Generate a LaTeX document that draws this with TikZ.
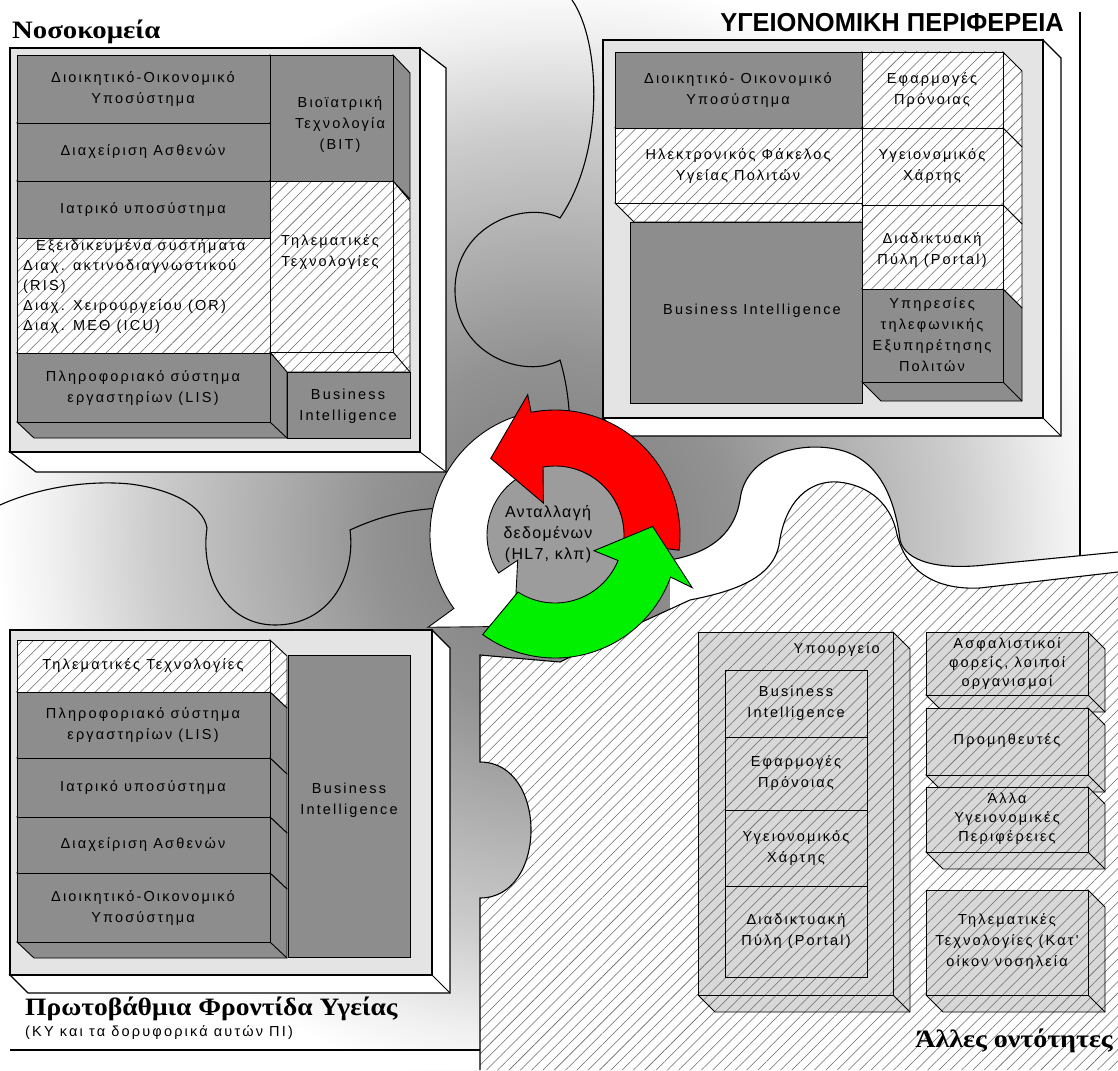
\documentclass[tikz,border=0pt]{standalone}
\usepackage{fontspec}
\setmainfont{Liberation Sans}
\newfontfamily\boxfont[LetterSpace=15]{Liberation Sans}
\newfontfamily\ringfont[LetterSpace=8]{Liberation Sans}
\newfontfamily\headserif{Liberation Serif}
\newfontfamily\headsans{Liberation Sans}
\usetikzlibrary{patterns.meta}

\definecolor{boxgray}{HTML}{8D8D8D}
\definecolor{panelgray}{HTML}{E4E4E4}
\definecolor{lightbox}{HTML}{D8D8D8}
\definecolor{hatchgray}{HTML}{6A6A6A}
\definecolor{ringred}{HTML}{FF0000}
\definecolor{ringgreen}{HTML}{00F000}
\definecolor{discgray}{HTML}{9C9C9C}
\definecolor{shadeA}{HTML}{7A7A7A}
\definecolor{shadeB}{HTML}{929292}
\definecolor{shadeC}{HTML}{CCCCCC}
\definecolor{shadeD}{HTML}{F0F0F0}
\pgfdeclareradialshading{pieceshade}{\pgfpoint{0bp}{0bp}}{color(0bp)=(shadeA); color(8bp)=(shadeB); color(18bp)=(shadeC); color(22.5bp)=(shadeD); color(25bp)=(white); color(50bp)=(white)}

% box with a bevelled right and bottom side: slab style, face style, x1, y1, x2, y2, dx, dy
\newcommand\slabbox[8]{%
  \path[#1] (#5,#4) -- (#5+#7,#4+#8) -- (#5+#7,#6+#8) -- (#3+#7,#6+#8) -- (#3,#6) -- (#5,#6) -- cycle;
  \draw[edge] (#5,#6) -- (#5+#7,#6+#8);
  \path[#2] (#3,#4) rectangle (#5,#6);
}

\tikzset{
  edge/.style={draw=black, line width=0.9pt},
  dark/.style={draw=black, line width=0.9pt, fill=boxgray},
  hatchbox/.style={draw=black, line width=0.9pt, preaction={fill=white},
    pattern={Lines[angle=45,distance=8pt,line width=0.55pt]}, pattern color=hatchgray},
  lhatch/.style={draw=black, line width=0.9pt, preaction={fill=lightbox},
    pattern={Lines[angle=45,distance=8pt,line width=0.55pt]}, pattern color=hatchgray},
  hatchfill/.style={preaction={fill=white},
    pattern={Lines[angle=45,distance=8pt,line width=0.55pt]}, pattern color=hatchgray},
  panelface/.style={draw=black, line width=1.2pt, fill=panelgray},
  panelslab/.style={draw=black, line width=1.2pt, fill=white},
  pieceline/.style={draw=black, line width=1.1pt},
  arrowline/.style={draw=black, line width=0.9pt},
  lbl/.style={font=\boxfont\fontsize{14.5}{21}\selectfont, align=center, inner sep=0pt},
  serifhead/.style={font=\headserif\bfseries\fontsize{25}{25}\selectfont, inner sep=0pt},
}

\begin{document}
\begin{tikzpicture}[x=1pt,y=-1pt]
\useasboundingbox (0,0) rectangle (1118,1070);
\fill[white] (0,0) rectangle (1118,1070);

% grey puzzle pieces, darker towards the middle
\begin{scope}
  \clip (0,0) rectangle (1118,1070);
  \shade[shading=pieceshade] (-4,-24) rectangle (1114,1094);
\end{scope}
\fill[white] (1080,0) rectangle (1118,560);
\fill[white] (0,1050) rectangle (480,1070);

% white rim above the hatched piece
\fill[white] (670,560) .. controls (715,552) and (735,530) .. (740,500)
  .. controls (745,455) and (800,440) .. (840,450)
  .. controls (880,460) and (895,500) .. (900,540)
  .. controls (905,562) and (940,570) .. (985,565) -- (1118,552)
  -- (1118,700) -- (670,700) -- cycle;

% hatched piece (other bodies)
\path[hatchfill] (480,1070) -- (480,898) .. controls (548,898) and (548,762) .. (480,762)
  -- (480,655) -- (560,662) -- (642,622) -- (690,600)
  .. controls (730,592) and (772,580) .. (779,545)
  .. controls (785,500) and (810,480) .. (838,482)
  .. controls (870,485) and (890,505) .. (896,530)
  .. controls (905,575) and (940,590) .. (980,588) -- (1118,572) -- (1118,1070) -- cycle;

% piece outlines
\draw[pieceline] (480,1070) -- (480,898) .. controls (548,898) and (548,762) .. (480,762)
  -- (480,655) -- (560,662) -- (642,622) -- (690,600)
  .. controls (730,592) and (772,580) .. (779,545)
  .. controls (785,500) and (810,480) .. (838,482)
  .. controls (870,485) and (890,505) .. (896,530)
  .. controls (905,575) and (940,590) .. (980,588) -- (1118,572);
\draw[pieceline] (670,560) .. controls (715,552) and (735,530) .. (740,500)
  .. controls (745,455) and (800,440) .. (840,450)
  .. controls (880,460) and (895,500) .. (900,540)
  .. controls (905,562) and (940,570) .. (985,565) -- (1118,552);
\draw[pieceline] (572,0) .. controls (600,40) and (606,150) .. (560,218)
  .. controls (525,200) and (455,225) .. (455,290)
  .. controls (455,355) and (525,380) .. (560,360)
  .. controls (572,400) and (571,440) .. (568,480);
\draw[pieceline] (0,505) .. controls (40,487) and (90,480) .. (130,484)
  .. controls (170,489) and (203,505) .. (207,528)
  .. controls (200,575) and (225,625) .. (275,625)
  .. controls (330,625) and (356,575) .. (350,530)
  .. controls (385,514) and (410,510) .. (440,508);
\draw[line width=2.5pt] (1080,12) -- (1080,556);

% ---------- hospitals ----------
\node[serifhead, anchor=base west] (tlTitle) at (12,39) {\scalebox{1.15}[1]{Νοσοκομεία}};
\slabbox{panelslab}{panelface}{10}{48}{420}{452}{26}{20}
\slabbox{dark}{dark}{17}{55}{270}{123}{17}{16}
\slabbox{dark}{dark}{17}{123}{270}{181}{17}{16}
\slabbox{dark}{dark}{17}{181}{270}{238}{17}{16}
\slabbox{hatchbox}{hatchbox}{17}{238}{270}{353}{17}{16}
\slabbox{dark}{dark}{17}{353}{270}{422}{17}{16}
\slabbox{dark}{dark}{270}{55}{393}{181}{17}{18}
\slabbox{hatchbox}{hatchbox}{270}{181}{393}{352}{17}{20}
\path[dark] (287,372) rectangle (410,438);
\node[lbl] (tlAdmin) at (143,89) {Διοικητικό-Οικονομικό\\Υποσύστημα};
\node[lbl] (tlPatients) at (143,152) {Διαχείριση Ασθενών};
\node[lbl] (tlMedical) at (143,210) {Ιατρικό υποσύστημα};
\node[lbl, anchor=north west, align=left, font=\boxfont\fontsize{14.5}{20}\selectfont] (tlSpecial) at (23,239)
  {\hspace*{13pt}Εξειδικευμένα συστήματα\\Διαχ. ακτινοδιαγνωστικού\\(RIS)\\Διαχ. Χειρουργείου (OR)\\Διαχ. ΜΕΘ (ICU)};
\node[lbl] (tlLis) at (143,388) {Πληροφοριακό σύστημα\\εργαστηρίων (LIS)};
\node[lbl] (tlBit) at (340,125) {Βιοϊατρική\\Τεχνολογία\\(BIT)};
\node[lbl] (tlTele) at (330,252) {Τηλεματικές\\Τεχνολογίες};
\node[lbl] (tlBi) at (348,406) {Business\\Intelligence};

% ---------- health region ----------
\node[anchor=base east, inner sep=0pt, font=\headsans\bfseries\fontsize{26}{26}\selectfont] (trTitle) at (1064,32)
  {\scalebox{0.98}[1]{ΥΓΕΙΟΝΟΜΙΚΗ ΠΕΡΙΦΕΡΕΙΑ}};
\slabbox{panelslab}{panelface}{603}{40}{1043}{418}{18}{18}
\slabbox{dark}{dark}{615}{52}{862}{128}{19}{19}
\slabbox{hatchbox}{hatchbox}{615}{128}{862}{203}{19}{19}
\path[dark] (630,222) rectangle (862,403);
\slabbox{hatchbox}{hatchbox}{862}{52}{1003}{128}{19}{19}
\slabbox{hatchbox}{hatchbox}{862}{128}{1003}{205}{19}{19}
\slabbox{hatchbox}{hatchbox}{862}{205}{1003}{289}{19}{19}
\slabbox{dark}{dark}{862}{289}{1003}{382}{19}{19}
\node[lbl] (trAdmin) at (738,90) {Διοικητικό- Οικονομικό\\Υποσύστημα};
\node[lbl] (trEhr) at (738,166) {Ηλεκτρονικός Φάκελος\\Υγείας Πολιτών};
\node[lbl] (trBi) at (752,311) {Business Intelligence};
\node[lbl] (trWelfare) at (932,90) {Εφαρμογές\\Πρόνοιας};
\node[lbl] (trMap) at (932,166) {Υγειονομικός\\Χάρτης};
\node[lbl] (trPortal) at (932,250) {Διαδικτυακή\\Πύλη (Portal)};
\node[lbl] (trCall) at (932,335) {Υπηρεσίες\\τηλεφωνικής\\Εξυπηρέτησης\\Πολιτών};

% ---------- primary care ----------
\slabbox{panelslab}{panelface}{10}{630}{432}{975}{18}{18}
\slabbox{hatchbox}{hatchbox}{17}{640}{270}{692}{17}{16}
\slabbox{dark}{dark}{17}{692}{270}{758}{17}{16}
\slabbox{dark}{dark}{17}{758}{270}{817}{17}{16}
\slabbox{dark}{dark}{17}{817}{270}{873}{17}{16}
\slabbox{dark}{dark}{17}{873}{270}{942}{17}{16}
\path[dark] (288,655) rectangle (410,957);
\node[lbl] (blTele) at (143,666) {Τηλεματικές Τεχνολογίες};
\node[lbl] (blLis) at (143,725) {Πληροφοριακό σύστημα\\εργαστηρίων (LIS)};
\node[lbl] (blMedical) at (143,788) {Ιατρικό υποσύστημα};
\node[lbl] (blPatients) at (143,845) {Διαχείριση Ασθενών};
\node[lbl] (blAdmin) at (143,908) {Διοικητικό-Οικονομικό\\Υποσύστημα};
\node[lbl] (blBi) at (349,800) {Business\\Intelligence};
\node[serifhead, anchor=base west] (blTitle) at (25,1015) {\scalebox{1.1}[1]{Πρωτοβάθμια Φροντίδα Υγείας}};
\node[lbl, anchor=base west] (blSub) at (25,1036) {(ΚΥ και τα δορυφορικά αυτών ΠΙ)};
\draw[line width=2.5pt] (10,1050) -- (480,1050);

% ---------- other bodies ----------
\slabbox{lhatch}{lhatch}{698}{632}{893}{995}{17}{17}
\path[lhatch] (725,670) rectangle (867,737);
\path[lhatch] (725,737) rectangle (867,810);
\path[lhatch] (725,810) rectangle (867,886);
\path[lhatch] (725,886) rectangle (867,977);
\node[lbl, anchor=east] (brMinistry) at (880,650) {Υπουργείο};
\node[lbl] (brBi) at (796,703) {Business\\Intelligence};
\node[lbl] (brWelfare) at (796,773) {Εφαρμογές\\Πρόνοιας};
\node[lbl] (brMap) at (796,848) {Υγειονομικός\\Χάρτης};
\node[lbl] (brPortal) at (796,931) {Διαδικτυακή\\Πύλη (Portal)};
\slabbox{lhatch}{lhatch}{926}{632}{1088}{695}{17}{17}
\slabbox{lhatch}{lhatch}{926}{708}{1088}{775}{17}{17}
\slabbox{lhatch}{lhatch}{926}{787}{1088}{852}{17}{17}
\slabbox{lhatch}{lhatch}{926}{890}{1088}{995}{17}{17}
\node[lbl, font=\boxfont\fontsize{14.5}{19}\selectfont] (brInsurers) at (1007,664) {Ασφαλιστικοί\\φορείς, λοιποί\\οργανισμοί};
\node[lbl] (brSuppliers) at (1007,741) {Προμηθευτές};
\node[lbl, font=\boxfont\fontsize{14.5}{19}\selectfont] (brRegions) at (1007,819) {Άλλα\\Υγειονομικές\\Περιφέρειες};
\node[lbl] (brHomecare) at (1007,942) {Τηλεματικές\\Τεχνολογίες (Κατ'\\οίκον νοσηλεία};
\node[serifhead, anchor=base east] (brTitle) at (1113,1047) {\scalebox{1.12}[1]{Άλλες οντότητες}};

% ---------- data exchange cycle ----------
\begin{scope}[shift={(555,535)}, yscale=-1]
  \fill[discgray] (0,0) circle[radius=70];
  \filldraw[arrowline, fill=white] (108:125) arc[start angle=108, end angle=216, radius=125]
    -- (216:157) -- (246:100) -- (214:45) -- (214:68)
    arc[start angle=214, end angle=108, radius=68] -- cycle;
  \filldraw[arrowline, fill=ringred] (-7:125) arc[start angle=-7, end angle=101, radius=125]
    -- (101:143) -- (130:100) -- (110:34) -- (100:69)
    arc[start angle=100, end angle=-7, radius=69] -- cycle;
  \filldraw[arrowline, fill=ringgreen] (234:123) arc[start angle=234, end angle=340, radius=123]
    -- (339:147) -- (5:98) -- (338:42) -- (338:68)
    arc[start angle=338, end angle=237, radius=68] -- cycle;
\end{scope}
\node[align=center, inner sep=0pt, font=\ringfont\fontsize{16}{21}\selectfont] (hubText) at (548,534)
  {Ανταλλαγή\\δεδομένων\\(HL7, κλπ)};
\end{tikzpicture}
\end{document}
